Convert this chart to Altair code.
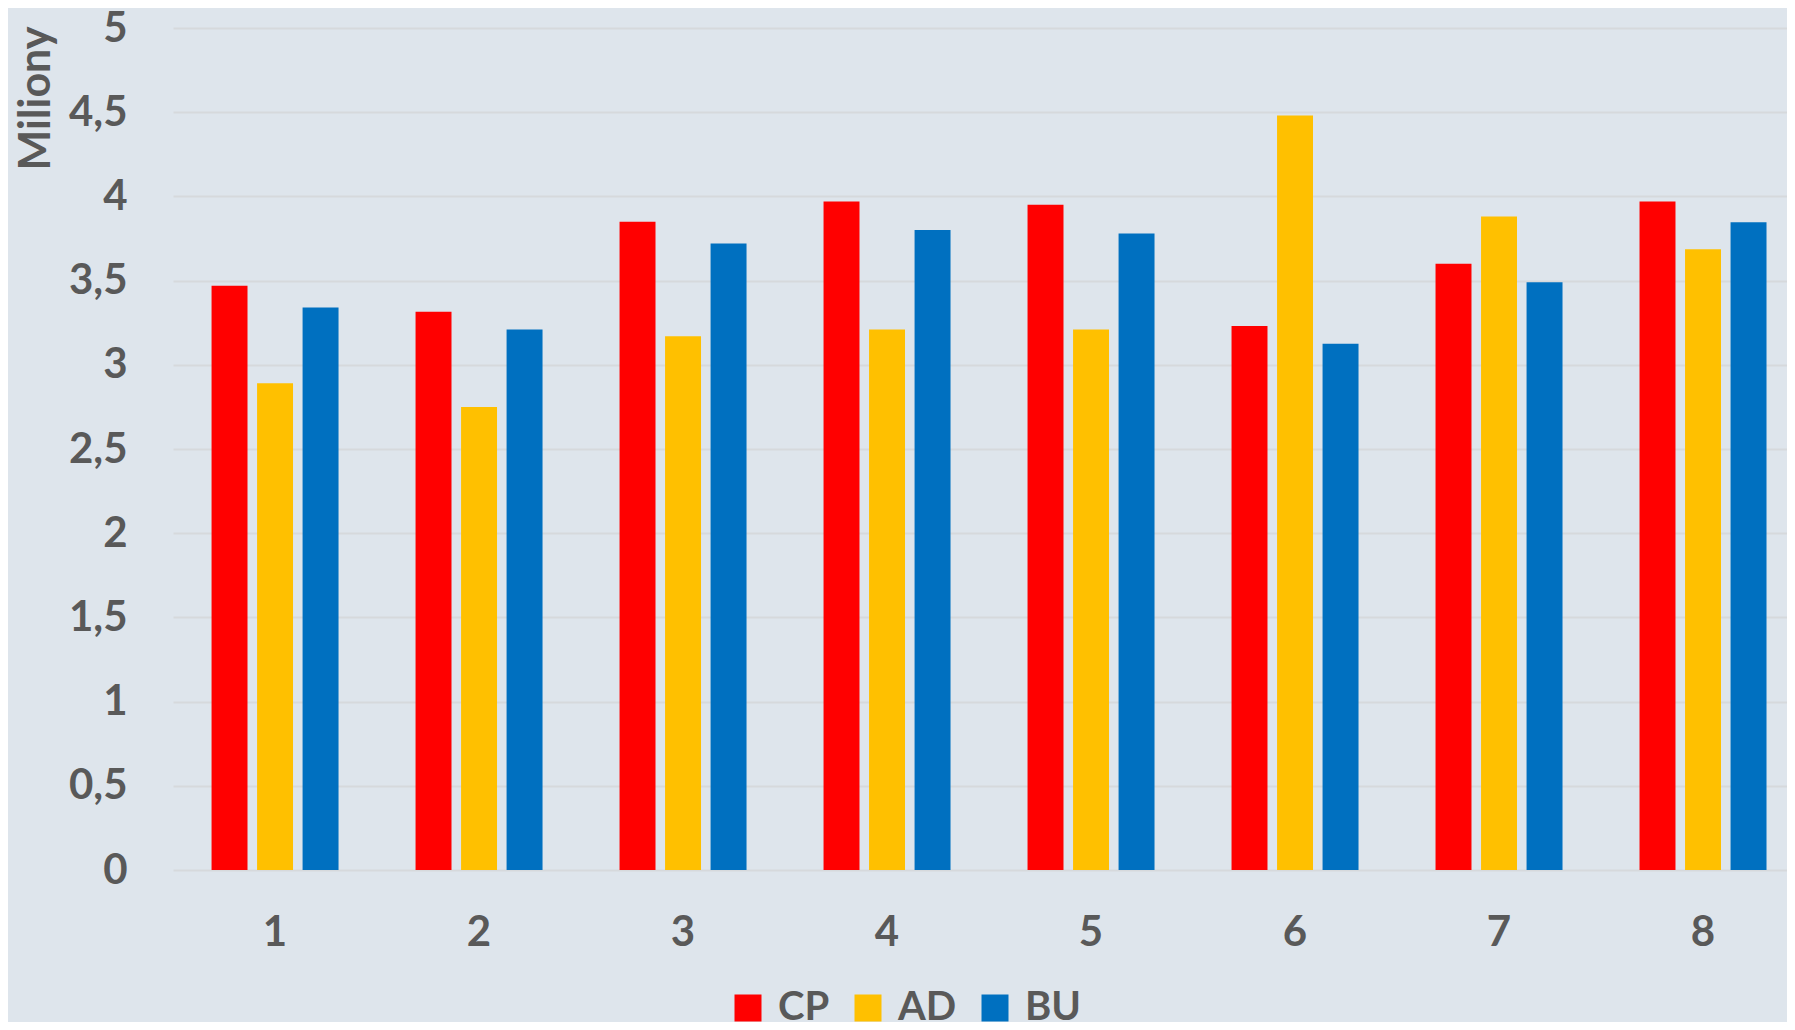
import altair as alt
import pandas as pd

groups = ["1", "2", "3", "4", "5", "6", "7", "8"]
series = ["CP", "AD", "BU"]
cp = [3.47, 3.315, 3.85, 3.97, 3.95, 3.23, 3.60, 3.97]
ad = [2.89, 2.75, 3.17, 3.21, 3.21, 4.48, 3.88, 3.686]
bu = [3.34, 3.21, 3.72, 3.80, 3.78, 3.125, 3.49, 3.846]
colors = ["#FF0000", "#FFC000", "#0070C0"]
y_ticks = [0, 0.5, 1, 1.5, 2, 2.5, 3, 3.5, 4, 4.5, 5]

rows = []
for s, vals in zip(series, [cp, ad, bu]):
    for g, v in zip(groups, vals):
        rows.append({"group": g, "series": s, "value": v})
df = pd.DataFrame(rows)

FONT = "Lato"
TXT = "#595959"

chart = alt.Chart(df).mark_bar().encode(
    x=alt.X("group:N", sort=groups,
            scale=alt.Scale(paddingInner=0.3775, paddingOuter=0.1447, align=0.653),
            axis=alt.Axis(title=None, labelAngle=0, labelFont=FONT, labelFontSize=42,
                          labelFontWeight="bold", labelColor=TXT, labelPadding=42,
                          domain=False, ticks=False, grid=False)),
    xOffset=alt.XOffset("series:N", sort=series,
                        scale=alt.Scale(paddingInner=0.21, paddingOuter=0)),
    y=alt.Y("value:Q", scale=alt.Scale(domain=[0, 5], nice=False),
            axis=alt.Axis(title="Miliony", values=y_ticks,
                          labelExpr="replace(toString(datum.value), '.', ',')",
                          labelFont=FONT, labelFontSize=42, labelFontWeight="bold",
                          labelColor=TXT, labelPadding=46, domain=False, ticks=False,
                          gridColor="#D6D9DC", gridWidth=2,
                          titleFont=FONT, titleFontSize=43, titleFontWeight="bold",
                          titleColor=TXT, titleAngle=270, titleX=-137, titleY=70,
                          titleAlign="center", titleBaseline="middle")),
    color=alt.Color("series:N", scale=alt.Scale(domain=series, range=colors),
                    legend=alt.Legend(title=None, orient="none", legendX=555, legendY=960,
                                      direction="horizontal", symbolType="square",
                                      symbolSize=729, symbolStrokeWidth=0,
                                      labelFont=FONT, labelFontSize=40,
                                      labelFontWeight="bold", labelColor=TXT,
                                      labelOffset=10, columnPadding=18)),
).properties(
    width=1614, height=842,
    padding={"left": 165, "top": 20, "right": 0, "bottom": 152},
    autosize=alt.AutoSizeParams(type="none"),
    background="#DEE5EC",
).configure_view(stroke=None)

chart.save("out.html", embed_options={"renderer": "svg", "actions": False})
